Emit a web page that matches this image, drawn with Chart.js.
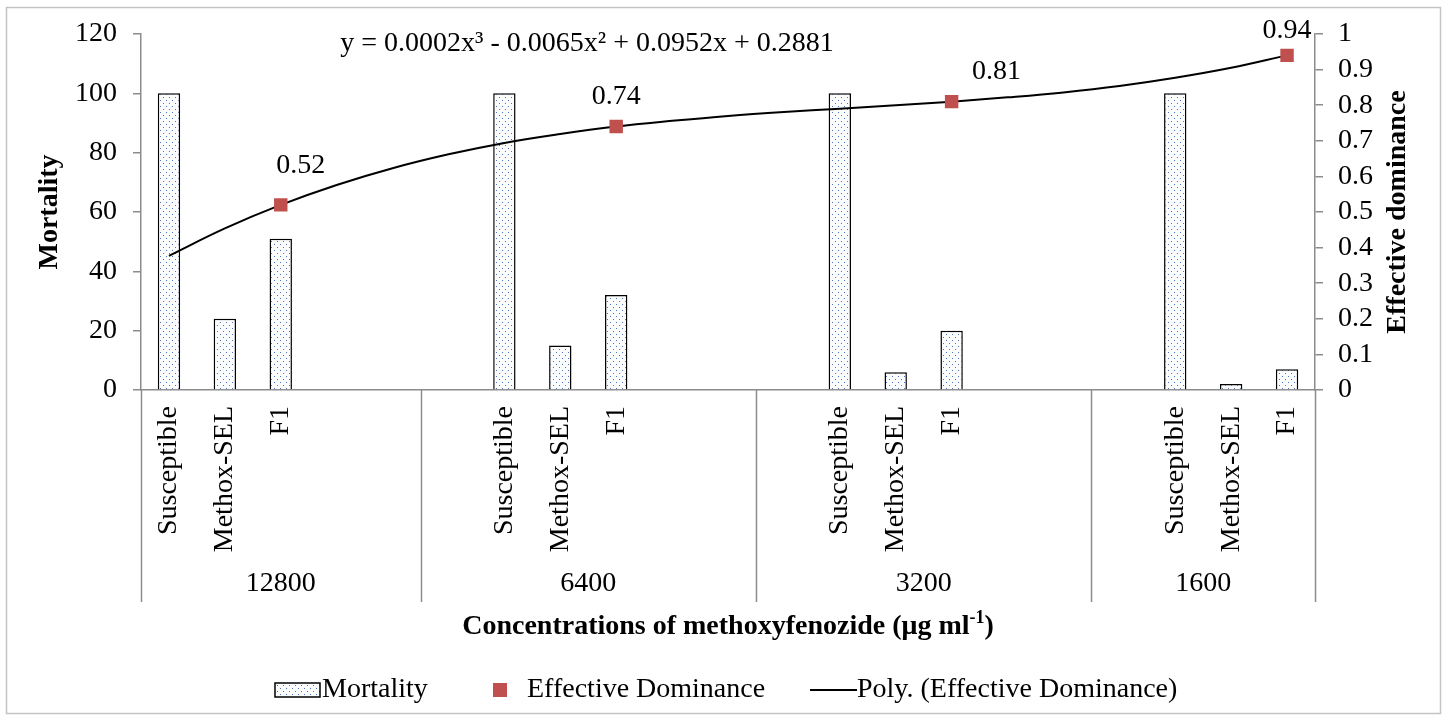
<!DOCTYPE html>
<html>
<head>
<meta charset="utf-8">
<script src="https://cdn.jsdelivr.net/npm/chart.js@4"></script>
<style>
  html, body { margin: 0; padding: 0; background: #fff; }
</style>
</head>
<body>
<canvas id="chart" width="1447" height="719"></canvas>
<script>
// ---- data ----
const categories = [
  'Susceptible', 'Methox-SEL', 'F1', '', '', '',
  'Susceptible', 'Methox-SEL', 'F1', '', '', '',
  'Susceptible', 'Methox-SEL', 'F1', '', '', '',
  'Susceptible', 'Methox-SEL', 'F1'
];
const groupNames = ['12800', '6400', '3200', '1600'];
const groupStarts = [0, 5, 11, 17]; // first category index of each concentration group
const mortality = [100, 24, 51, null, null, null, 100, 15, 32, null, null, null, 100, 6, 20, null, null, null, 100, 2, 7];
const dominance = [null, null, 0.52, null, null, null, null, null, 0.74, null, null, null, null, null, 0.81, null, null, null, null, null, 0.94];
const polyTrend = [0.377, 0.454, 0.52, 0.576, 0.623, 0.662, 0.694, 0.719, 0.74, 0.756, 0.770, 0.781, 0.790, 0.800, 0.81, 0.822, 0.836, 0.854, 0.877, 0.905, 0.94];
const equation = 'y = 0.0002x³ - 0.0065x² + 0.0952x + 0.2881';
const xTitle = 'Concentrations of methoxyfenozide (μg ml';
const xTitleSup = '-1';

const SERIF = '"Liberation Serif", "Times New Roman", serif';
const AXIS = '#8c8c8c';
const RED = '#c0504d';
const FS = 28;

Chart.defaults.font.family = SERIF;
Chart.defaults.color = '#000';

// dotted fill like the Excel pattern
const tile = document.createElement('canvas');
tile.width = 6; tile.height = 6;
const tc = tile.getContext('2d');
tc.fillStyle = '#fbfcfe';
tc.fillRect(0, 0, 6, 6);
tc.fillStyle = '#4f74b8';
tc.fillRect(1, 1, 1, 1);
tc.fillRect(4, 4, 1, 1);
const dots = tc.createPattern(tile, 'repeat');

const chartDecor = {
  id: 'chartDecor',
  beforeDraw(chart) {
    const c = chart.ctx;
    c.save();
    c.fillStyle = '#fff';
    c.fillRect(0, 0, chart.width, chart.height);
    c.strokeStyle = '#c4c4c4';
    c.lineWidth = 1.5;
    c.strokeRect(6.5, 7.5, 1434, 706);
    c.restore();
  },
  afterDraw(chart) {
    const c = chart.ctx;
    const xs = chart.scales.x;
    const y1 = chart.scales.y1;
    const area = chart.chartArea;
    const step = xs.width / categories.length;
    c.save();

    // group separators + group labels
    c.strokeStyle = AXIS;
    c.lineWidth = 1.5;
    const bounds = groupStarts.concat([categories.length]);
    bounds.forEach(k => {
      const px = Math.round(xs.left + k * step) + 0.5;
      c.beginPath();
      c.moveTo(px, area.bottom);
      c.lineTo(px, 602);
      c.stroke();
    });
    c.fillStyle = '#000';
    c.font = FS + 'px ' + SERIF;
    c.textAlign = 'center';
    c.textBaseline = 'middle';
    groupNames.forEach((g, i) => {
      const mid = xs.left + (bounds[i] + bounds[i + 1]) / 2 * step;
      c.fillText(g, mid, 584);
    });

    // right axis tick labels, placed off the scale's own ticks
    c.textAlign = 'left';
    y1.ticks.forEach(t => {
      c.fillText(String(+t.value.toFixed(1)), y1.left + 23, y1.getPixelForValue(t.value));
    });

    // right axis title, reading bottom to top like the left one
    c.save();
    c.textAlign = 'center';
    c.translate(1398, (area.top + area.bottom) / 2);
    c.rotate(-Math.PI / 2);
    c.font = 'bold ' + FS + 'px ' + SERIF;
    c.fillText('Effective dominance', 0, 0);
    c.restore();

    // x axis title with superscript
    c.font = 'bold ' + FS + 'px ' + SERIF;
    const w1 = c.measureText(xTitle).width;
    c.font = 'bold 18px ' + SERIF;
    const w2 = c.measureText(xTitleSup).width;
    c.font = 'bold ' + FS + 'px ' + SERIF;
    const w3 = c.measureText(')').width;
    let tx = (area.left + area.right) / 2 - (w1 + w2 + w3) / 2;
    const ty = 627;
    c.textAlign = 'left';
    c.fillText(xTitle, tx, ty);
    tx += w1;
    c.font = 'bold 18px ' + SERIF;
    c.fillText(xTitleSup, tx, ty - 9);
    tx += w2;
    c.font = 'bold ' + FS + 'px ' + SERIF;
    c.fillText(')', tx, ty);

    // trendline equation
    c.font = FS + 'px ' + SERIF;
    c.textAlign = 'center';
    c.fillText(equation, 587, 44);

    // value labels next to the dominance points
    const offsets = { 2: [20, -39], 8: [0, -30], 14: [45, -30], 20: [0, -25] };
    const meta = chart.getDatasetMeta(1);
    dominance.forEach((v, i) => {
      if (v === null) return;
      const p = meta.data[i];
      const o = offsets[i];
      c.fillText(v.toFixed(2), p.x + o[0], p.y + o[1]);
    });

    // legend
    const ly = 690;
    c.fillStyle = dots;
    c.fillRect(275, ly - 7, 45, 14);
    c.strokeStyle = '#000';
    c.lineWidth = 1.5;
    c.strokeRect(275, ly - 7, 45, 14);
    c.fillStyle = RED;
    c.fillRect(493, ly - 7, 14, 14);
    c.strokeStyle = '#000';
    c.lineWidth = 2;
    c.beginPath();
    c.moveTo(810, ly);
    c.lineTo(857, ly);
    c.stroke();
    c.fillStyle = '#000';
    c.font = FS + 'px ' + SERIF;
    c.textAlign = 'left';
    c.fillText('Mortality', 322, ly);
    c.fillText('Effective Dominance', 527, ly);
    c.fillText('Poly. (Effective Dominance)', 857, ly);
    c.restore();
  }
};

new Chart(document.getElementById('chart'), {
  type: 'bar',
  data: {
    labels: categories,
    datasets: [
      {
        type: 'bar', label: 'Mortality', data: mortality, yAxisID: 'y',
        backgroundColor: dots, borderColor: '#000', borderWidth: 1.5,
        barPercentage: 0.4, categoryPercentage: 1, order: 3
      },
      {
        type: 'line', label: 'Effective Dominance', data: dominance, yAxisID: 'y1',
        showLine: false, pointStyle: 'rect', pointRadius: 9.5,
        backgroundColor: RED, borderColor: RED, borderWidth: 0, order: 1
      },
      {
        type: 'line', label: 'Poly. (Effective Dominance)', data: polyTrend, yAxisID: 'y1',
        borderColor: '#000', borderWidth: 2, pointRadius: 0, tension: 0.4,
        fill: false, order: 2
      }
    ]
  },
  options: {
    responsive: false,
    animation: false,
    layout: { padding: { top: 34, left: 0, right: 0, bottom: 0 } },
    plugins: { legend: { display: false }, tooltip: { enabled: false } },
    scales: {
      x: {
        type: 'category', offset: true,
        border: { display: true, color: AXIS, width: 1.5 },
        grid: { display: false, drawTicks: false },
        ticks: { autoSkip: false, minRotation: 90, maxRotation: 90, padding: 16, color: '#000', font: { size: FS } },
        afterFit: s => { s.height = 719 - 390; }
      },
      y: {
        position: 'left', min: 0, max: 120,
        border: { color: AXIS, width: 1.5 },
        grid: { drawOnChartArea: false, color: AXIS, lineWidth: 1.5, tickLength: 8 },
        ticks: { stepSize: 20, autoSkip: false, padding: 16, color: '#000', font: { size: FS } },
        title: { display: true, text: 'Mortality', color: '#000', font: { size: FS, weight: 'bold' }, padding: { top: 33, bottom: 0 } },
        afterFit: s => { s.width = 141; }
      },
      y1: {
        position: 'right', min: 0, max: 1,
        border: { color: AXIS, width: 1.5 },
        grid: { drawOnChartArea: false, color: AXIS, lineWidth: 1.5, tickLength: 8 },
        ticks: { stepSize: 0.1, autoSkip: false, display: false },
        afterFit: s => { s.width = 1447 - 1315; }
      }
    }
  },
  plugins: [chartDecor]
});
</script>
</body>
</html>
